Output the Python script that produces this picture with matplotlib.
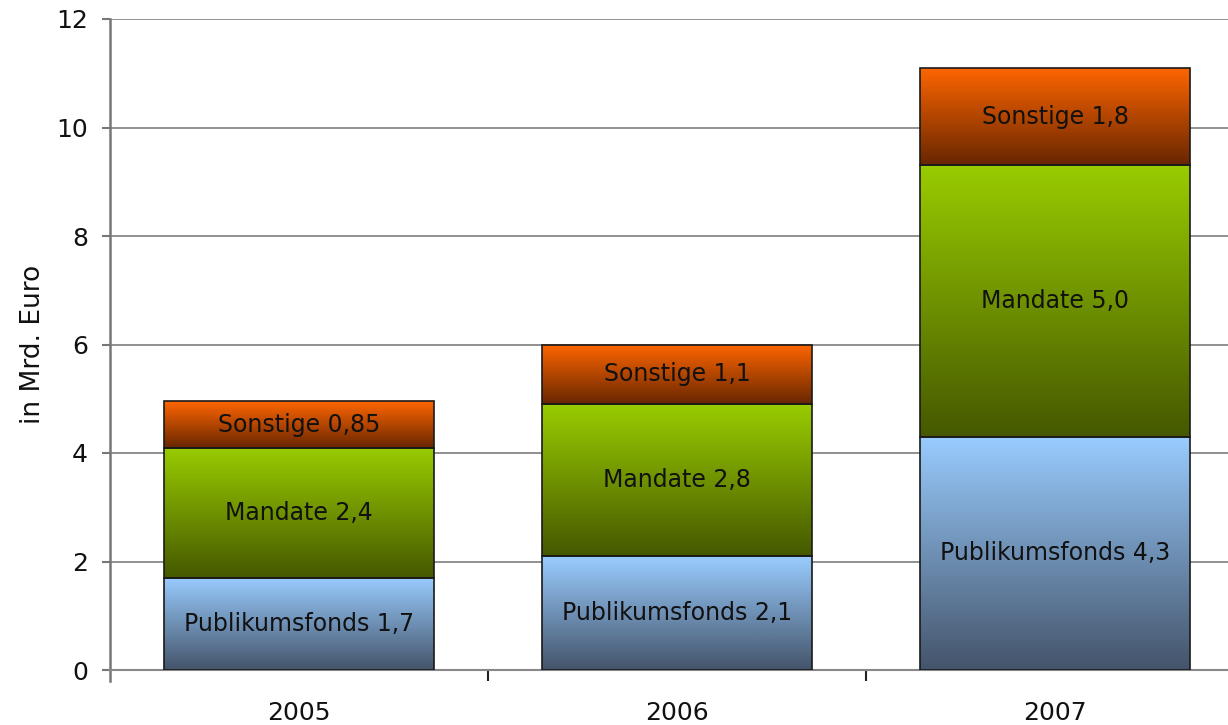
import numpy as np
import matplotlib
matplotlib.use("Agg")
import matplotlib.pyplot as plt
from matplotlib.colors import LinearSegmentedColormap

# Daten (in Mrd. Euro)
jahre = ["2005", "2006", "2007"]
publikumsfonds = [1.7, 2.1, 4.3]
mandate = [2.4, 2.8, 5.0]
sonstige = [0.85, 1.1, 1.8]
lab_publikum = ["Publikumsfonds 1,7", "Publikumsfonds 2,1", "Publikumsfonds 4,3"]
lab_mandate = ["Mandate 2,4", "Mandate 2,8", "Mandate 5,0"]
lab_sonstige = ["Sonstige 0,85", "Sonstige 1,1", "Sonstige 1,8"]

# Farbverlauf (oben -> unten)
verlauf = {
    "publikum": ("#99ccff", "#44546a"),
    "mandate": ("#99cc00", "#455800"),
    "sonstige": ("#ff6600", "#682600"),
}

plt.rcParams["font.family"] = ["DejaVu Sans"]

fig = plt.figure(figsize=(12.28, 7.25), dpi=100)
# rechte Kante liegt ausserhalb des Bildes (wie im Original abgeschnitten)
ax = fig.add_axes([110 / 1228, 55 / 725, 1134 / 1228, 651 / 725])

x = np.arange(len(jahre))
breite = 0.714
grad = np.linspace(0, 1, 256).reshape(-1, 1)


def gestapelt(werte, unten, farben, texte):
    bars = ax.bar(x, werte, bottom=unten, width=breite, color="none",
                  edgecolor="#1a1a1a", linewidth=1.2, zorder=4)
    cmap = LinearSegmentedColormap.from_list("v", [farben[1], farben[0]])
    for b, t in zip(bars, texte):
        x0, y0 = b.get_x(), b.get_y()
        w, h = b.get_width(), b.get_height()
        im = ax.imshow(grad, extent=[x0, x0 + w, y0, y0 + h], origin="lower",
                       cmap=cmap, aspect="auto", zorder=3, interpolation="bicubic")
        im.set_clip_path(b)
        ax.text(x0 + w / 2, y0 + h / 2, t, ha="center", va="center",
                fontsize=17, color="#111111", zorder=5)
    return bars


unten1 = np.array(publikumsfonds)
unten2 = unten1 + np.array(mandate)
gestapelt(publikumsfonds, 0, verlauf["publikum"], lab_publikum)
gestapelt(mandate, unten1, verlauf["mandate"], lab_mandate)
gestapelt(sonstige, unten2, verlauf["sonstige"], lab_sonstige)

ax.set_xlim(-0.5, 2.5)
ax.set_ylim(0, 12)
ax.set_yticks(range(0, 13, 2))
ax.tick_params(axis="y", labelsize=18, length=6, width=1.5, color="#777777",
               labelcolor="#111111", pad=10)
ax.set_xticks(x)
ax.set_xticklabels(jahre)
ax.tick_params(axis="x", which="major", length=0, labelsize=18, pad=22,
               labelcolor="#111111")
ax.set_xticks([0.5, 1.5], minor=True)
ax.tick_params(axis="x", which="minor", length=8, width=1.5, color="#222222")

ax.yaxis.grid(True, color="#888888", linewidth=1.3, zorder=1)
ax.set_axisbelow(True)
for s in ["top", "right"]:
    ax.spines[s].set_visible(False)
ax.spines["left"].set_color("#777777")
ax.spines["left"].set_linewidth(1.8)
ax.spines["left"].set_bounds(-0.2, 12)
ax.spines["bottom"].set_color("#888888")
ax.spines["bottom"].set_linewidth(1.5)

ax.set_ylabel("in Mrd. Euro", fontsize=19, color="#111111")
ax.yaxis.set_label_coords(-0.056, 0.5)

fig.savefig("out.png", dpi=100)
